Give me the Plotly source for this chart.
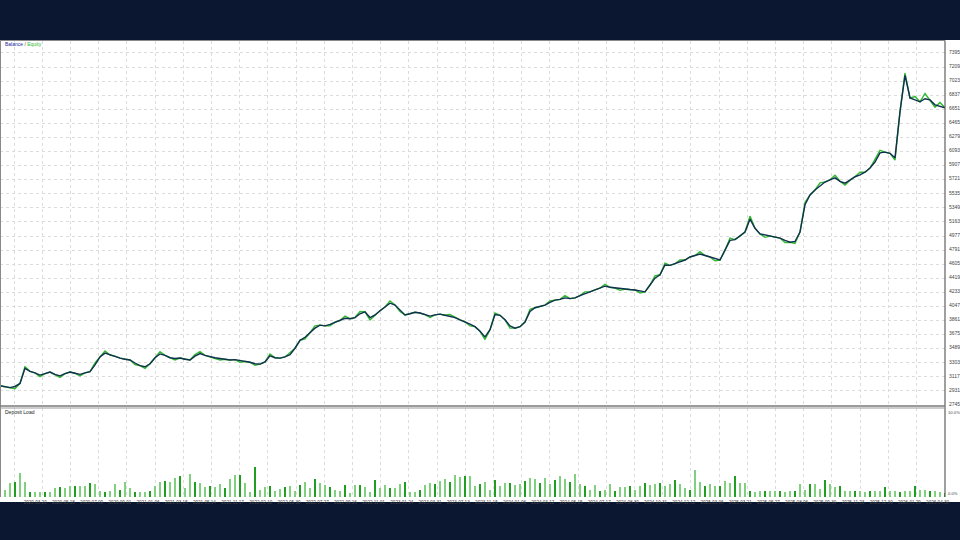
import plotly.graph_objects as go

# ---------------- data ----------------
balance = [
    3000, 2990, 2975, 2990, 3030, 3230, 3190, 3170, 3140, 3160,
    3180, 3150, 3130, 3160, 3180, 3165, 3150, 3170, 3185, 3275,
    3380, 3430, 3405, 3390, 3365, 3350, 3340, 3300, 3265, 3250,
    3290, 3370, 3420, 3400, 3370, 3360, 3365, 3350, 3340, 3390,
    3425, 3400, 3380, 3370, 3360, 3350, 3340, 3345, 3335, 3320,
    3310, 3290, 3285, 3315, 3395, 3370, 3365, 3380, 3410, 3495,
    3600, 3640, 3700, 3760, 3800, 3790, 3810, 3840, 3860, 3890,
    3885, 3900, 3950, 3975, 3900, 3935, 3990, 4040, 4090, 4065,
    4000, 3935, 3950, 3970, 3960, 3940, 3920, 3935, 3945, 3930,
    3920, 3900, 3870, 3845, 3815, 3780, 3720, 3645, 3740, 3940,
    3930, 3870, 3790, 3760, 3780, 3840, 3980, 4030, 4050, 4065,
    4100, 4130, 4140, 4160, 4150, 4160, 4190, 4210, 4240, 4265,
    4290, 4315, 4300, 4290, 4285, 4275, 4270, 4265, 4250, 4240,
    4330, 4420, 4465, 4595, 4590, 4610, 4635, 4660, 4700, 4720,
    4740, 4720, 4700, 4680, 4660, 4790, 4920, 4930, 4975, 5030,
    5200, 5080, 5005, 4990, 4975, 4960, 4950, 4920, 4895, 4905,
    5030, 5390, 5520, 5585, 5640, 5690, 5720, 5745, 5700, 5675,
    5715, 5760, 5785, 5820, 5875, 5955, 6075, 6085, 6070, 6010,
    6620, 7100, 6800, 6775, 6750, 6790, 6775, 6710, 6690, 6670,
]

equity = [
    3000, 2990, 2975, 2960, 3030, 3250, 3190, 3170, 3120, 3160,
    3180, 3150, 3110, 3160, 3180, 3165, 3130, 3170, 3185, 3300,
    3380, 3460, 3405, 3390, 3365, 3350, 3340, 3280, 3265, 3230,
    3290, 3370, 3450, 3400, 3370, 3340, 3365, 3350, 3340, 3410,
    3450, 3400, 3380, 3370, 3340, 3350, 3340, 3345, 3310, 3320,
    3310, 3270, 3285, 3315, 3420, 3370, 3365, 3380, 3440, 3495,
    3600, 3620, 3700, 3790, 3800, 3790, 3790, 3840, 3860, 3920,
    3885, 3900, 3980, 3975, 3870, 3935, 3990, 4040, 4120, 4065,
    3980, 3935, 3950, 3970, 3960, 3940, 3900, 3935, 3945, 3930,
    3940, 3900, 3870, 3845, 3790, 3780, 3720, 3610, 3740, 3960,
    3930, 3870, 3760, 3760, 3780, 3840, 4010, 4030, 4050, 4065,
    4120, 4130, 4140, 4190, 4150, 4160, 4190, 4240, 4240, 4265,
    4290, 4340, 4300, 4290, 4260, 4275, 4270, 4265, 4225, 4240,
    4330, 4450, 4465, 4620, 4590, 4610, 4660, 4660, 4700, 4720,
    4770, 4720, 4700, 4650, 4660, 4790, 4950, 4930, 4975, 5030,
    5240, 5080, 5005, 4960, 4975, 4960, 4950, 4890, 4895, 4880,
    5030, 5420, 5520, 5585, 5680, 5690, 5720, 5780, 5700, 5650,
    5715, 5760, 5820, 5820, 5875, 5990, 6110, 6085, 6070, 5980,
    6620, 7130, 6800, 6820, 6750, 6860, 6775, 6680, 6740, 6670,
]

deposit_load = [
    1.1, 0.8, 1.5, 1.7, 2.7, 1.6, 0.5, 0.5, 0.5, 0.5,
    0.5, 1.0, 1.1, 1.0, 1.2, 1.2, 1.2, 1.2, 1.5, 1.4,
    0.6, 0.5, 0.6, 1.4, 0.7, 1.7, 1.0, 0.5, 0.5, 0.5,
    0.6, 1.2, 1.7, 1.8, 1.7, 2.1, 2.3, 1.0, 2.6, 1.6,
    1.5, 1.1, 1.2, 1.1, 1.4, 1.0, 2.0, 2.5, 2.4, 1.5,
    0.5, 3.4, 0.8, 1.1, 1.2, 0.6, 0.9, 1.1, 1.2, 0.6,
    1.3, 1.6, 1.0, 2.0, 1.5, 1.3, 1.1, 0.7, 0.6, 1.3,
    0.4, 1.3, 1.3, 1.1, 0.5, 1.9, 1.0, 1.3, 1.0, 1.0,
    1.4, 1.6, 0.5, 0.5, 0.8, 1.3, 1.5, 1.4, 1.8, 2.0,
    1.6, 2.4, 2.2, 2.3, 2.3, 1.2, 1.4, 1.7, 0.7, 1.9,
    1.2, 1.5, 1.5, 1.3, 1.4, 1.8, 2.1, 2.0, 1.5, 2.1,
    1.4, 1.9, 2.3, 2.0, 1.6, 2.6, 1.4, 1.2, 0.7, 1.3,
    0.6, 0.8, 1.4, 0.6, 1.1, 1.1, 1.2, 0.8, 1.2, 1.5,
    1.3, 1.4, 1.5, 1.2, 1.4, 1.9, 1.4, 1.0, 0.8, 3.0,
    1.7, 1.2, 1.4, 1.2, 1.2, 1.8, 1.5, 2.3, 1.5, 1.5,
    0.6, 0.5, 0.6, 0.6, 0.6, 0.6, 0.6, 0.5, 0.6, 0.6,
    1.4, 0.7, 1.4, 1.4, 0.9, 1.9, 1.4, 1.1, 1.2, 0.6,
    0.6, 0.6, 0.6, 0.5, 0.6, 0.6, 0.6, 1.1, 0.6, 0.6,
    0.5, 0.6, 0.6, 1.2, 0.7, 0.7, 0.6, 0.6, 0.5, 0.4,
]

date_labels = [
    "2020.01.06", "2020.03.20", "2020.05.18", "2020.07.09", "2020.09.01",
    "2021.01.06", "2021.03.15", "2021.05.14", "2021.11.17", "2022.02.10",
    "2022.05.30", "2022.07.27", "2022.09.16", "2022.11.01", "2023.01.24",
    "2023.03.31", "2023.07.13", "2023.11.15", "2024.01.06", "2024.03.12",
    "2024.05.15", "2024.07.17", "2024.08.30", "2024.10.31", "2024.12.12",
    "2025.03.06", "2025.03.21", "2025.05.27", "2025.08.06", "2025.09.30",
    "2025.11.23", "2025.12.30", "2026.01.29", "2026.04.30",
]

y_ticks = [2745 + 186 * k for k in range(26)]
load_ticks = [0, 10]
load_tick_text = ["0.0%", "10.0%"]

# ---------------- layout helpers ----------------
W, H = 960, 540
N = len(balance)
trades = list(range(N))
PX_PER_UNIT = 945 / (N - 1)


def py(px):
    return 1 - px / H


x_tickvals = [(14 + 28.2 * k) / PX_PER_UNIT for k in range(len(date_labels))]

NAVY = "#0b1630"
GRID = "#dcdcdc"
TXT = "#444444"
FONT = "Liberation Sans, Arial, sans-serif"

bar_colors = ["#1f9e1f" if i % 3 == 0 else "#80d080" for i in range(N)]

fig = go.Figure()

fig.add_trace(go.Scatter(
    x=trades, y=equity, mode="lines", name="Equity",
    line=dict(color="#2db82d", width=1.4), xaxis="x", yaxis="y",
))
fig.add_trace(go.Scatter(
    x=trades, y=balance, mode="lines", name="Balance",
    line=dict(color="#12304f", width=1.4), xaxis="x", yaxis="y",
))
fig.add_trace(go.Bar(
    x=trades, y=deposit_load, name="Deposit Load",
    marker=dict(color=bar_colors, line=dict(width=0)), width=0.5,
    xaxis="x2", yaxis="y2",
))

xdom = [0, 945 / W]
common_x = dict(
    domain=xdom, range=[0, N - 1], showgrid=True, gridcolor=GRID,
    griddash="dot", gridwidth=1, zeroline=False, showline=False,
    tickvals=x_tickvals, ticks="", automargin=False,
)

fig.update_layout(
    width=W, height=H, autosize=False,
    margin=dict(l=0, r=0, t=0, b=0, pad=0, autoexpand=False),
    paper_bgcolor=NAVY, plot_bgcolor="white",
    showlegend=False, bargap=0,
    font=dict(family=FONT, size=5, color=TXT),
    xaxis=dict(**common_x, anchor="y", showticklabels=False),
    xaxis2=dict(**common_x, anchor="y2", matches="x", showticklabels=True,
                ticktext=date_labels, ticklabelshift=-7, ticklabelstandoff=1,
                tickfont=dict(size=4.6, color=TXT, family=FONT), tickangle=0),
    yaxis=dict(domain=[py(406), py(41)], range=[2732, 7553], side="right",
               anchor="x", tickvals=y_ticks, tickfont=dict(size=5, color=TXT),
               showgrid=True, gridcolor=GRID, griddash="dot", zeroline=False,
               ticks="", ticklabelstandoff=3, automargin=False,
               ticklabelshift=-1),
    yaxis2=dict(domain=[py(497), py(408)], range=[-0.057, 10.11], side="right",
                anchor="x2", showticklabels=False, showgrid=False,
                zeroline=False, ticks="", automargin=False),
)

shapes = [
    # white panel behind the whole chart
    dict(type="rect", xref="paper", yref="paper", x0=0, x1=1,
         y0=py(502), y1=py(40), fillcolor="white", line=dict(width=0),
         layer="below"),
    # top border
    dict(type="line", xref="paper", yref="paper", x0=0, x1=945 / W,
         y0=py(40.5), y1=py(40.5), line=dict(color="#8a8a8a", width=1)),
    # left border
    dict(type="line", xref="paper", yref="paper", x0=0.5 / W, x1=0.5 / W,
         y0=py(497), y1=py(40.5), line=dict(color="#8a8a8a", width=1)),
    # right axis line
    dict(type="line", xref="paper", yref="paper", x0=945 / W, x1=945 / W,
         y0=py(497), y1=py(40.5), line=dict(color="#606060", width=1.2)),
    # panel separator
    dict(type="line", xref="paper", yref="paper", x0=0, x1=945 / W,
         y0=py(406), y1=py(406), line=dict(color="#7a7a7a", width=1.3)),
    dict(type="line", xref="paper", yref="paper", x0=0, x1=945 / W,
         y0=py(408), y1=py(408), line=dict(color="#9a9a9a", width=1)),
]
fig.update_layout(shapes=shapes)

# deposit-load axis labels, placed on the lower panel's own y scale
for val, txt, anchor in zip(load_ticks, load_tick_text, ["bottom", "top"]):
    fig.add_annotation(
        xref="paper", yref="y2", x=946.5 / W, y=val, xanchor="left",
        yanchor=anchor, showarrow=False, text=txt, borderpad=0,
        font=dict(size=4.2, color=TXT, family=FONT),
    )

fig.add_annotation(
    xref="paper", yref="paper", x=3 / W, y=py(44.5), xanchor="left",
    yanchor="middle", showarrow=False,
    text="<span style='color:#1c2a9a'>Balance</span> / "
         "<span style='color:#2db82d'>Equity</span>",
    font=dict(size=5, color=TXT, family=FONT),
)
fig.add_annotation(
    xref="paper", yref="paper", x=3 / W, y=py(411.5), xanchor="left",
    yanchor="middle", showarrow=False, text="Deposit Load",
    font=dict(size=5, color="#222222", family=FONT),
)

fig.write_html("out.html")
